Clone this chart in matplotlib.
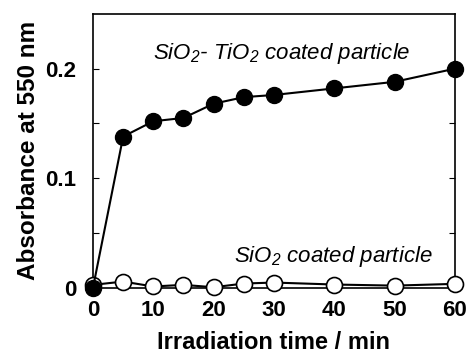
import matplotlib
matplotlib.use('Agg')
import matplotlib.pyplot as plt

plt.rcParams['font.family'] = ['Liberation Sans', 'DejaVu Sans']
plt.rcParams['mathtext.fontset'] = 'custom'
plt.rcParams['mathtext.rm'] = 'Liberation Sans:italic'
plt.rcParams['mathtext.it'] = 'Liberation Sans:italic'

# irradiation time (min)
time = [0, 5, 10, 15, 20, 25, 30, 40, 50, 60]
# absorbance at 550 nm
sio2_tio2 = [0.0, 0.138, 0.152, 0.155, 0.168, 0.174, 0.176, 0.182, 0.188, 0.200]
sio2 = [0.0025, 0.0055, 0.001, 0.0025, 0.0003, 0.0037, 0.0046, 0.0028, 0.0018, 0.0034]

xticks = [0, 10, 20, 30, 40, 50, 60]
yticks = [0, 0.1, 0.2]
yticklabels = ['0', '0.1', '0.2']

fig = plt.figure(figsize=(4.66, 3.54), dpi=100)
ax = fig.add_axes([0.1996, 0.1876, 0.7764, 0.7729])

ax.plot(time, sio2, color='black', linewidth=1.5, marker='o', markersize=11.5,
        markerfacecolor='white', markeredgecolor='black', markeredgewidth=1.2,
        clip_on=False, zorder=3)
ax.plot(time, sio2_tio2, color='black', linewidth=1.5, marker='o', markersize=11.5,
        markerfacecolor='black', markeredgecolor='black', clip_on=False, zorder=4)

ax.set_xlim(0, 60)
ax.set_ylim(0, 0.25)
ax.set_xticks(xticks)
ax.set_yticks(yticks)
ax.set_yticklabels(yticklabels)
ax.set_yticks([0.05, 0.15], minor=True)

ax.tick_params(axis='y', which='both', direction='in', length=4, width=0.8,
               left=True, right=True, labelsize=16, pad=12)
ax.tick_params(axis='x', length=0, labelsize=16, pad=9)
for lab in ax.get_xticklabels() + ax.get_yticklabels():
    lab.set_fontweight('bold')

for s in ax.spines.values():
    s.set_linewidth(1.2)

ax.set_xlabel('Irradiation time / min', fontsize=17, fontweight='bold', labelpad=7)
ax.set_ylabel('Absorbance at 550 nm', fontsize=17.5, fontweight='bold', labelpad=4)

ax.text(10.0, 0.214, 'SiO$_2$- TiO$_2$ coated particle', fontsize=16, style='italic',
        va='center', ha='left')
ax.text(23.4, 0.028, 'SiO$_2$ coated particle', fontsize=16, style='italic',
        va='center', ha='left')

fig.savefig('out.png', dpi=100)
